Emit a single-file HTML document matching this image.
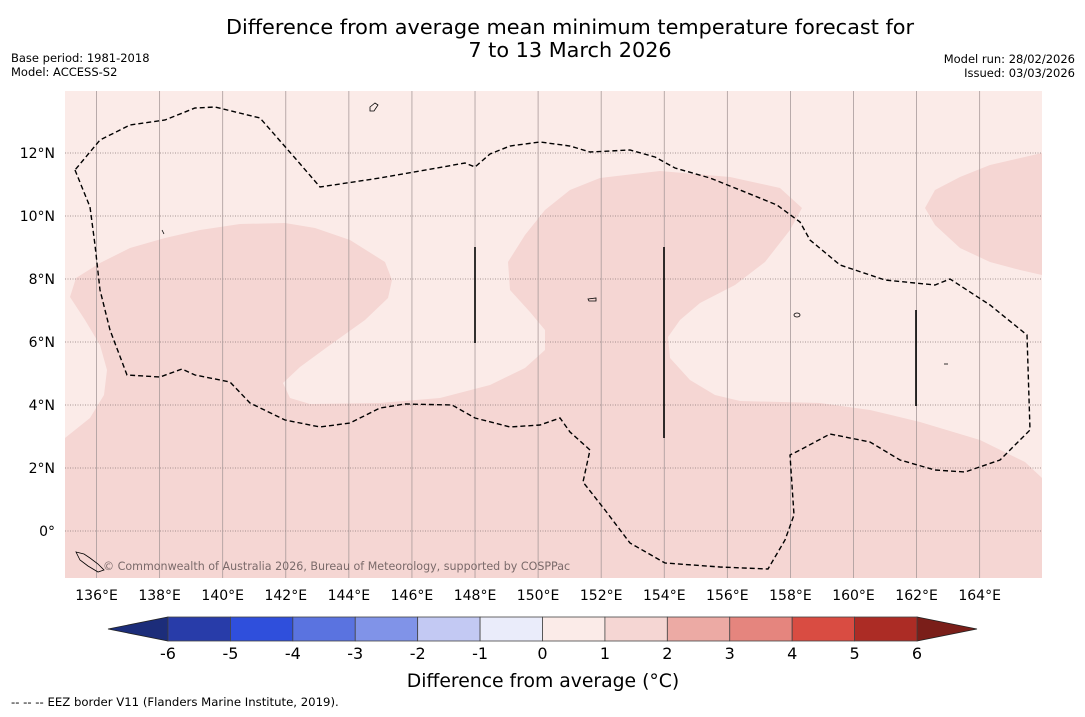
<!DOCTYPE html>
<html><head><meta charset="utf-8"><style>
body{margin:0;background:#fff;width:1085px;height:713px;overflow:hidden;font-family:"DejaVu Sans","Liberation Sans",sans-serif}
svg text{font-family:"DejaVu Sans","Liberation Sans",sans-serif}
</style></head><body>
<svg id="s" width="1085" height="713" xmlns="http://www.w3.org/2000/svg">
<text x="570" y="34" font-size="20.8" text-anchor="middle">Difference from average mean minimum temperature forecast for</text>
<text x="570" y="57" font-size="20.8" text-anchor="middle">7 to 13 March 2026</text>
<text x="11" y="62" font-size="11.5">Base period: 1981-2018</text>
<text x="11" y="76" font-size="11.5">Model: ACCESS-S2</text>
<text x="1075" y="63" font-size="11.5" text-anchor="end">Model run: 28/02/2026</text>
<text x="1075" y="77" font-size="11.5" text-anchor="end">Issued: 03/03/2026</text>
<defs><clipPath id="c"><rect x="65" y="91" width="977" height="487"/></clipPath></defs>
<g clip-path="url(#c)">
<rect x="65" y="91" width="977" height="487" fill="#fbebe8"/>
<path fill="#f5d6d3" d="M65,438 L90,418 104,395 107,370 100,345 85,320 70,297 76,278 100,263 130,248 165,238 200,230 240,224 285,223 315,228 350,240 385,262 392,280 388,298 365,320 330,345 300,367 283,383 290,398 310,404 380,403 440,398 490,385 525,368 545,350 545,330 530,312 510,290 508,262 525,235 545,210 570,190 600,178 660,171 730,177 780,188 802,208 790,230 765,262 735,285 700,303 680,320 668,337 670,358 690,380 715,395 740,401 820,403 870,410 920,422 980,440 1025,462 1042,478 1042,578 65,578Z"/>
<path fill="#f5d6d3" d="M1042,153 L990,165 960,177 935,190 925,208 935,225 960,248 990,262 1020,270 1042,275Z"/>
<g id="grid"></g>
<path fill="none" stroke="#000" stroke-width="1.4" stroke-dasharray="5,3" d="M75,170 L90,207 95,245 100,290 110,330 127,375 160,377 182,369 195,375 230,382 250,403 285,420 320,427 350,423 380,408 405,404 452,405 475,418 510,427 540,425 560,418 570,432 590,450 583,482 605,510 630,543 665,563 720,567 768,569 785,540 794,515 792,485 790,455 800,450 830,434 870,442 900,460 935,470 965,472 1000,460 1030,430 1027,335 990,305 950,279 935,285 885,280 840,265 810,240 800,222 777,205 740,190 710,178 675,168 655,157 630,150 590,152 570,146 540,142 510,146 490,154 475,167 465,163 420,171 380,178 320,187 295,158 260,118 215,107 195,108 165,120 130,125 100,140 75,170"/>
<g stroke="#000" stroke-width="1.6">
<line x1="475" y1="247" x2="475" y2="343"/><line x1="664" y1="247" x2="664" y2="438"/><line x1="916" y1="310" x2="916" y2="406"/></g>
<g fill="none" stroke="#000" stroke-width="0.8">
<path d="M370,107 l5,-4 3,2 -4,6 -4,0z"/><path d="M76,552 l8,2 6,4 8,6 6,6 -6,2 -10,-6 -8,-6z"/><ellipse cx="797" cy="315" rx="3" ry="2"/><path d="M588,299 l8,-1 0,3 -7,0z"/><path d="M162,230 l2,4"/><path d="M944,364 l4,0"/></g>
<text x="103" y="570" font-size="11.1" fill="#7a6a6a">© Commonwealth of Australia 2026, Bureau of Meteorology, supported by COSPPac</text>
</g>
<g id="ticks"></g>
<g id="cbar"></g>
<text x="543" y="687" font-size="18.8" text-anchor="middle">Difference from average (°C)</text>
<text x="11" y="706" font-size="11.7">--  --  -- EEZ border V11 (Flanders Marine Institute, 2019).</text>
</svg>
<script>
const lonTicks=[136,138,140,142,144,146,148,150,152,154,156,158,160,162,164];
const latTicks=[0,2,4,6,8,10,12];
const cbarBounds=[-6,-5,-4,-3,-2,-1,0,1,2,3,4,5,6];
const cbarColors=["#283ca9","#2f4fdc","#5a73e0","#8093e8","#c3c9f3","#eaecfa","#fbebe8","#f5d6d3","#ecaaa4","#e5857e","#d94c42","#ac2c25"];
const NS="http://www.w3.org/2000/svg";
const X=lon=>65+(lon-135)*31.54, Y=lat=>531-lat*31.5, C=v=>168+(v+6)*(749/12);
function mk(t,a,p){const e=document.createElementNS(NS,t);for(const k in a)e.setAttribute(k,a[k]);p.appendChild(e);return e;}
const g=document.getElementById('grid'),tk=document.getElementById('ticks'),cb=document.getElementById('cbar');
lonTicks.forEach(l=>{
 const ln=mk('line',{x1:X(l),x2:X(l),y1:91,y2:578,stroke:'#a89a9a','stroke-width':0.8},g);
 
 
 const t=mk('text',{x:X(l),y:600,'font-size':14,'text-anchor':'middle'},tk);t.textContent=l+'°E';
 
 
});
latTicks.forEach(l=>{
 const ln=mk('line',{x1:65,x2:1042,y1:Y(l),y2:Y(l),stroke:'#8a7a7a','stroke-width':0.8,'stroke-dasharray':'1,1.5'},g);
 
 
 const t=mk('text',{x:55,y:Y(l)+5,'font-size':14,'text-anchor':'end'},tk);t.textContent=l===0?'0°':l+'°N';
 
 
});
const lt=mk('polygon',{points:`${C(-6)},617 ${C(-6)},641 108,629`,fill:'#1c2d7a',stroke:'#222','stroke-width':0.8},cb);


const rt=mk('polygon',{points:`${C(6)},617 ${C(6)},641 977,629`,fill:'#7a1e19',stroke:'#222','stroke-width':0.8},cb);


cbarColors.forEach((c,i)=>{
 const r=mk('rect',{x:C(cbarBounds[i]),y:617,width:C(cbarBounds[i+1])-C(cbarBounds[i]),height:24,fill:c,stroke:'#444','stroke-width':0.8},cb);
 
 
});
cbarBounds.forEach(v=>{
 const t=mk('text',{x:C(v),y:659,'font-size':16,'text-anchor':'middle'},cb);t.textContent=v;
 
 
});
</script>
</body></html>
